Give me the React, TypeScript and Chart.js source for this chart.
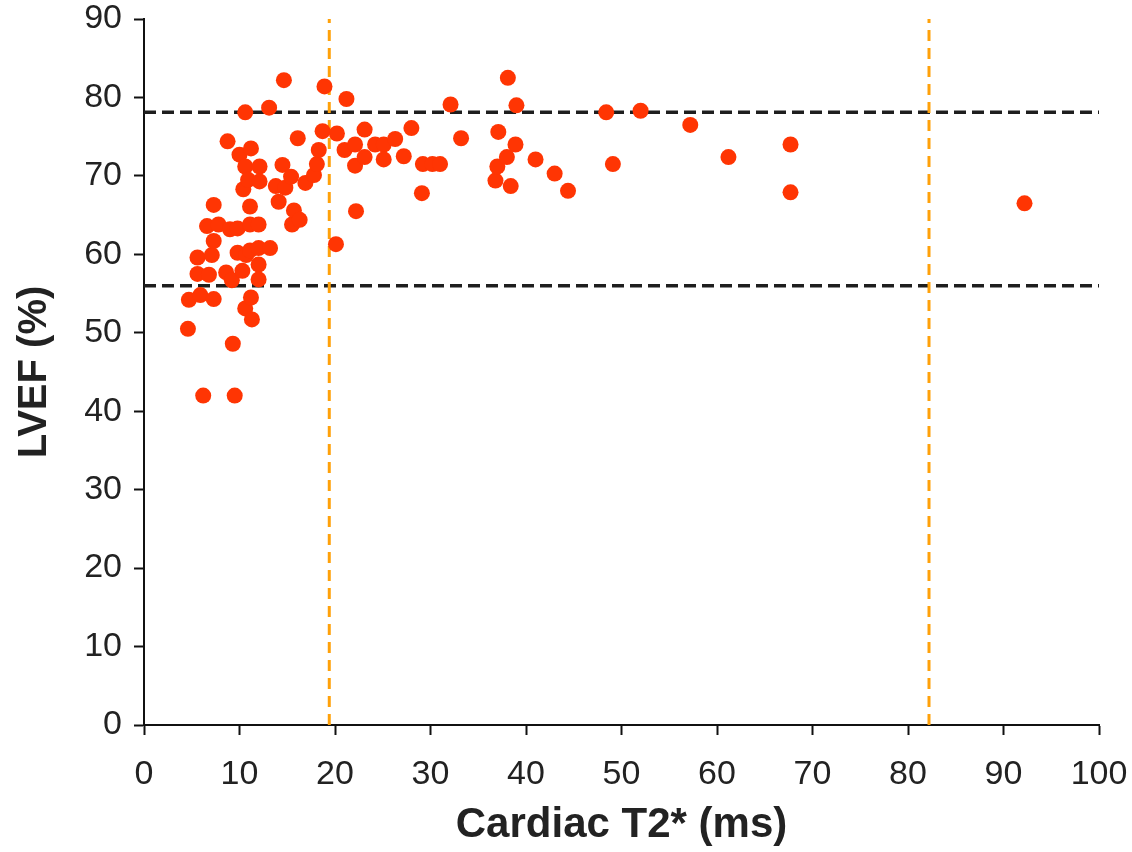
import React, { useEffect, useRef } from 'react';
import { Chart, registerables } from 'chart.js';

Chart.register(...registerables);

// Cardiac T2* (ms) values of each patient
const t2Values: number[] = [
  4.6, 4.7, 5.6, 5.6, 5.9, 6.2, 6.6, 6.8, 7.1, 7.3,
  7.3, 7.3, 7.8, 8.75, 9.0, 8.6, 9.2, 9.3, 9.5, 9.8,
  9.8, 10.0, 10.3, 10.4, 10.6, 10.6, 10.6, 10.7, 10.9, 11.1,
  11.1, 11.1, 11.2, 11.2, 11.3, 12.0, 12.0, 12.0, 12.0, 12.1,
  12.1, 13.1, 13.2, 13.8, 14.1, 14.5, 14.65, 14.8, 15.4, 15.5,
  15.7, 16.1, 16.3, 16.9, 17.8, 18.1, 18.3, 18.7, 18.9, 20.1,
  20.2, 21.0, 21.2, 22.1, 22.1, 22.2, 23.1, 23.1, 24.2, 25.1,
  25.1, 26.3, 27.2, 28.0, 29.1, 29.2, 30.2, 31.0, 32.1, 33.2,
  36.8, 37.0, 37.1, 38.0, 38.1, 38.4, 38.9, 39.0, 41.0, 43.0,
  44.4, 48.4, 49.1, 52.0, 57.2, 61.2, 67.7, 67.7, 92.2,
];

// LVEF (%) values, same order as t2Values
const lvefValues: number[] = [
  50.5, 54.2, 59.6, 57.5, 54.8, 42.0, 63.6, 57.4, 59.9, 66.3,
  61.7, 54.3, 63.8, 74.4, 63.2, 57.7, 56.7, 48.6, 42.0, 63.3,
  60.2, 72.7, 57.9, 68.3, 78.1, 71.2, 53.1, 59.9, 69.5, 66.1,
  63.8, 60.5, 73.5, 54.5, 51.7, 63.8, 60.8, 58.7, 56.8, 71.2,
  69.3, 78.7, 60.8, 68.7, 66.7, 71.4, 82.2, 68.5, 69.9, 63.8,
  65.6, 74.8, 64.4, 69.1, 70.1, 71.5, 73.3, 75.7, 81.4, 61.3,
  75.4, 73.3, 79.8, 74.0, 71.3, 65.5, 75.9, 72.4, 74.0, 74.0,
  72.1, 74.7, 72.5, 76.1, 67.8, 71.5, 71.5, 71.5, 79.1, 74.8,
  69.4, 71.2, 75.6, 72.4, 82.5, 68.7, 74.0, 79.0, 72.1, 70.3,
  68.1, 78.1, 71.5, 78.3, 76.5, 72.4, 74.0, 67.9, 66.5,
];

// Reference lines
const lvefRefLines: number[] = [78.1, 56.0];
const t2RefLines: number[] = [19.4, 82.2];

// Axis ranges / ticks
const xTickValues: number[] = [0, 10, 20, 30, 40, 50, 60, 70, 80, 90, 100];
const yTickValues: number[] = [0, 10, 20, 30, 40, 50, 60, 70, 80, 90];

const xTitle = 'Cardiac T2* (ms)';
const yTitle = 'LVEF (%)';

const FONT = "'Liberation Sans', Arial, Helvetica, sans-serif";

export default function App() {
  const canvasRef = useRef<HTMLCanvasElement | null>(null);

  useEffect(() => {
    if (!canvasRef.current) return;
    const xMin = xTickValues[0];
    const xMax = xTickValues[xTickValues.length - 1];
    const yMin = yTickValues[0];
    const yMax = yTickValues[yTickValues.length - 1];

    const points = t2Values.map((x, i) => ({ x, y: lvefValues[i] }));

    const orangeSets = t2RefLines.map((v) => ({
      type: 'line' as const,
      data: [
        { x: v, y: yMin },
        { x: v, y: yMax },
      ],
      borderColor: '#FFA10A',
      borderWidth: 3,
      borderDash: [11, 7],
      pointRadius: 0,
      showLine: true,
      fill: false,
    }));

    const blackSets = lvefRefLines.map((v) => ({
      type: 'line' as const,
      data: [
        { x: xMin, y: v },
        { x: xMax, y: v },
      ],
      borderColor: '#1e1e1e',
      borderWidth: 3.5,
      borderDash: [12, 6],
      pointRadius: 0,
      showLine: true,
      fill: false,
    }));

    const chart = new Chart(canvasRef.current, {
      type: 'scatter',
      data: {
        datasets: [
          {
            data: points,
            backgroundColor: '#FF3503',
            borderWidth: 0,
            pointRadius: 8,
            pointHoverRadius: 8,
          },
          ...orangeSets,
          ...blackSets,
        ] as any,
      },
      options: {
        animation: false,
        responsive: true,
        maintainAspectRatio: false,
        layout: { padding: { top: 19, right: 33, left: 0, bottom: 0 } },
        plugins: {
          legend: { display: false },
          tooltip: { enabled: false },
          title: { display: false },
        },
        scales: {
          x: {
            type: 'linear',
            min: xMin,
            max: xMax,
            afterFit: (s: any) => {
              s.height = 127;
              s.paddingLeft = 0;
              s.paddingRight = 0;
            },
            afterBuildTicks: (s: any) => {
              s.ticks = xTickValues.map((v) => ({ value: v }));
            },
            ticks: {
              color: '#222222',
              font: { family: FONT, size: 34 },
              padding: 19,
              maxRotation: 0,
              autoSkip: false,
            },
            grid: {
              display: true,
              drawOnChartArea: false,
              drawTicks: true,
              tickLength: 10,
              tickWidth: 2,
              tickColor: '#111111',
            },
            border: { display: true, color: '#111111', width: 2 },
            title: {
              display: true,
              text: xTitle,
              color: '#222222',
              font: { family: FONT, size: 42, weight: 'bold' },
              padding: { top: 0, bottom: 1 },
            },
          },
          y: {
            type: 'linear',
            min: yMin,
            max: yMax,
            afterFit: (s: any) => {
              s.width = 144;
              s.paddingTop = 0;
              s.paddingBottom = 0;
            },
            afterBuildTicks: (s: any) => {
              s.ticks = yTickValues.map((v) => ({ value: v }));
            },
            ticks: {
              color: '#222222',
              font: { family: FONT, size: 34 },
              padding: 12,
              autoSkip: false,
            },
            grid: {
              display: true,
              drawOnChartArea: false,
              drawTicks: true,
              tickLength: 10,
              tickWidth: 2,
              tickColor: '#111111',
            },
            border: { display: true, color: '#111111', width: 2 },
            title: {
              display: true,
              text: yTitle,
              color: '#222222',
              font: { family: FONT, size: 40, weight: 'bold' },
              padding: { top: 11, bottom: 0 },
            },
          },
        },
      },
    });

    return () => {
      chart.destroy();
    };
  }, []);

  return (
    <div
      style={{
        position: 'fixed',
        left: 0,
        top: 0,
        width: 1132,
        height: 852,
        background: '#ffffff',
      }}
    >
      <canvas ref={canvasRef} />
    </div>
  );
}
